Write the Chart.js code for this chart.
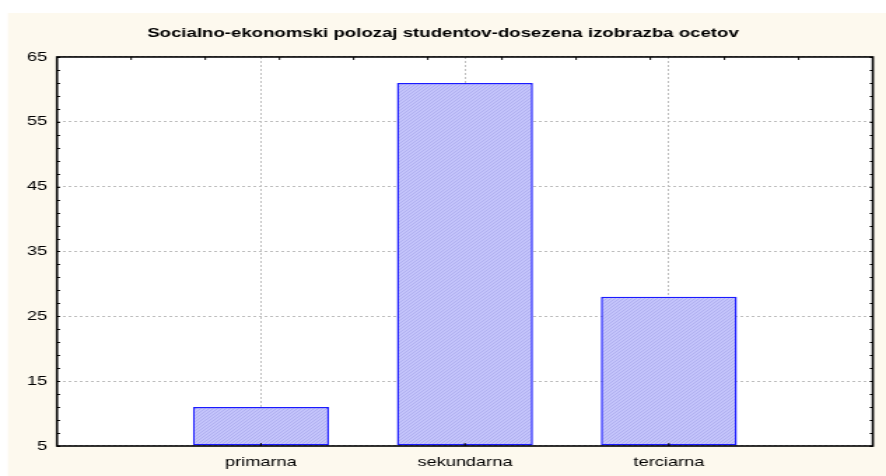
<!DOCTYPE html>
<html><head><meta charset="utf-8">
<script src="https://cdn.jsdelivr.net/npm/chart.js@4/dist/chart.umd.min.js"></script>
<style>html,body{margin:0;padding:0;background:#fff;overflow:hidden;}
#c{display:block;width:886px !important;height:476px !important;}</style>
</head><body>
<canvas id="c" width="633" height="476" style="width:886px;height:476px;"></canvas>
<script>
const titleText = 'Socialno-ekonomski polozaj studentov-dosezena izobrazba ocetov';
const categories = ['primarna', 'sekundarna', 'terciarna'];
const categoryPositions = [1, 2, 3];
const values = [11, 61, 28];
const yMin = 5, yMax = 65, yStep = 10, yMinorStep = 2;
const xMin = 0, xMax = 4, topTickDivisions = 11;

function makePattern() {
  const p = document.createElement('canvas');
  p.width = 3; p.height = 3;
  const g = p.getContext('2d');
  g.fillStyle = '#c4c4fb';
  g.fillRect(0, 0, 3, 3);
  g.fillStyle = '#b0b0f0';
  for (let i = 0; i < 3; i++) g.fillRect(i, 2 - i, 1, 1);
  return g.createPattern(p, 'repeat');
}

const FONT = '"Liberation Sans", Arial, sans-serif';

const framePlugin = {
  id: 'frame',
  beforeDraw(chart) {
    const ctx = chart.ctx, a = chart.chartArea;
    ctx.save();
    ctx.fillStyle = '#ffffff';
    ctx.fillRect(0, 0, chart.width, chart.height);
    ctx.fillStyle = '#fdf9ee';
    ctx.fillRect(5.7, 13, chart.width - 5.7, chart.height - 13);
    ctx.fillStyle = '#ffffff';
    ctx.fillRect(a.left, a.top, a.right - a.left, a.bottom - a.top);
    ctx.restore();
  },
  afterDraw(chart) {
    const ctx = chart.ctx, a = chart.chartArea;
    const ys = chart.scales.y, xs = chart.scales.x;
    ctx.save();
    ctx.strokeStyle = '#000';
    ctx.lineWidth = 1;
    ctx.beginPath();
    for (let v = yMin; v <= yMax; v += yMinorStep) {
      const py = Math.round(ys.getPixelForValue(v)) + 0.5;
      ctx.moveTo(a.left, py); ctx.lineTo(a.left + 2.2, py);
      ctx.moveTo(a.right, py); ctx.lineTo(a.right - 2.2, py);
    }
    for (let k = 1; k < topTickDivisions; k++) {
      const px = xs.getPixelForValue(xMin + (xMax - xMin) * k / topTickDivisions);
      ctx.moveTo(px, a.top); ctx.lineTo(px, a.top + 3);
    }
    categoryPositions.forEach(v => {
      const px = xs.getPixelForValue(v);
      ctx.moveTo(px, a.bottom); ctx.lineTo(px, a.bottom - 3);
    });
    ctx.stroke();
    ctx.lineWidth = 1.6;
    ctx.strokeRect(a.left, a.top, a.right - a.left, a.bottom - a.top);
    ctx.restore();
  }
};

new Chart(document.getElementById('c'), {
  type: 'bar',
  data: {
    datasets: [{
      data: categoryPositions.map((x, i) => ({ x: x, y: values[i] })),
      backgroundColor: makePattern(),
      borderColor: '#1a1aff',
      borderWidth: 1.5,
      borderSkipped: false,
      base: yMin,
      categoryPercentage: 1,
      barPercentage: 0.667
    }]
  },
  options: {
    responsive: false,
    animation: false,
    devicePixelRatio: 1,
    layout: { padding: { left: 0, right: 0, top: 0, bottom: 0 } },
    plugins: {
      legend: { display: false },
      tooltip: { enabled: false },
      title: {
        display: true,
        text: titleText,
        color: '#000',
        font: { family: FONT, size: 13.3, weight: 'bold' },
        padding: { top: 25, bottom: 16 }
      }
    },
    scales: {
      x: {
        type: 'linear',
        min: xMin, max: xMax,
        offset: false,
        afterFit(s) { s.height = 30; },
        ticks: {
          stepSize: 1,
          autoSkip: false,
          maxRotation: 0,
          padding: 9,
          color: '#000',
          font: { family: FONT, size: 13 },
          callback: (v) => {
            const i = categoryPositions.indexOf(v);
            return i >= 0 ? categories[i] : '';
          }
        },
        grid: {
          offset: false,
          drawTicks: false,
          color: (c) => (c.tick && categoryPositions.includes(c.tick.value)) ? '#bdbdbd' : 'rgba(0,0,0,0)',
          lineWidth: 1
        },
        border: { display: false, dash: [2, 2] }
      },
      y: {
        min: yMin, max: yMax,
        afterFit(s) { s.width = 40.7; },
        ticks: {
          stepSize: yStep,
          padding: 7,
          color: '#000',
          font: { family: FONT, size: 13 }
        },
        grid: {
          drawTicks: false,
          color: '#bdbdbd',
          lineWidth: 1
        },
        border: { display: false, dash: [2, 2] }
      },
      yRight: {
        position: 'right',
        min: yMin, max: yMax,
        afterFit(s) { s.width = 9.4; },
        ticks: { display: false },
        grid: { display: false, drawTicks: false },
        border: { display: false }
      }
    }
  },
  plugins: [framePlugin]
});
</script>
</body></html>
